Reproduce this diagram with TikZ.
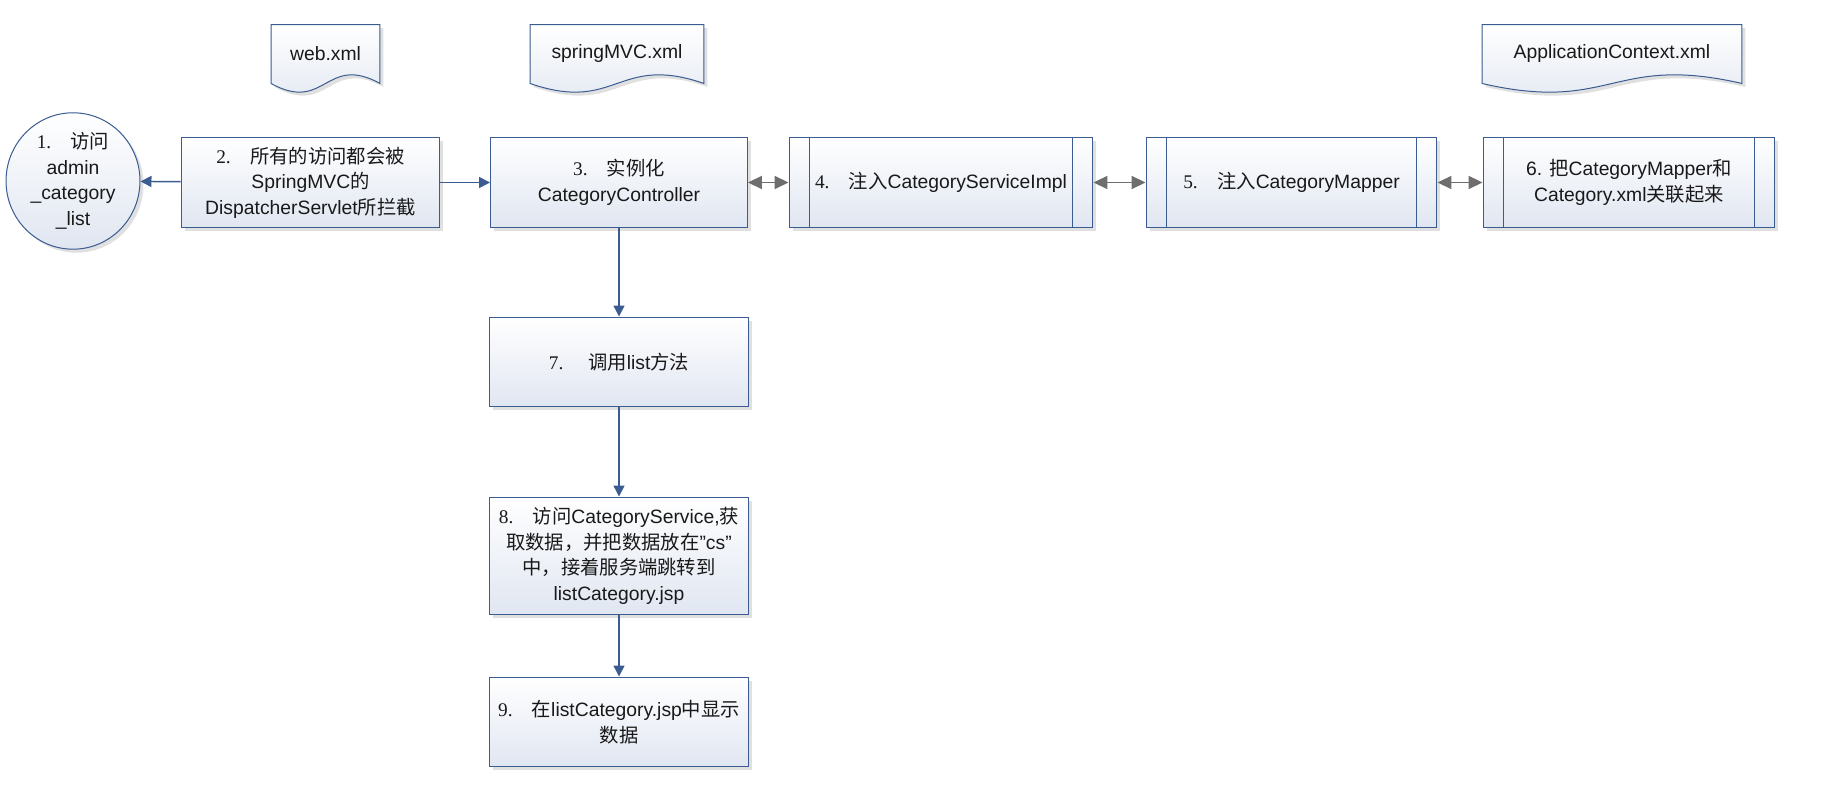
\documentclass[tikz,border=0pt]{standalone}
\usepackage{fontspec}
\setmainfont{Liberation Sans}
\newfontfamily\cjk{Noto Sans CJK SC}
\newfontfamily\numf{Liberation Serif}
\newcommand{\zh}[1]{{\cjk #1}}
\newcommand{\nr}[1]{{\numf #1}}
\usepackage{tikz}
\usetikzlibrary{arrows.meta,shapes.geometric,shadows,backgrounds}
\definecolor{boxline}{RGB}{58,92,145}
\definecolor{boxfill}{RGB}{224,230,241}
\definecolor{linkgray}{RGB}{110,110,110}

\begin{document}
\begin{tikzpicture}[
		x=0.02cm, y=-0.02cm,
		every node/.style={font=\fontsize{11}{14.5}\selectfont, align=center, text=black!90},
		shaded/.style={draw=boxline, line width=0.57pt, top color=white, bottom color=boxfill,
			drop shadow={shadow xshift=0.07cm, shadow yshift=-0.07cm, fill=black!12, opacity=1}},
		stepbox/.style={rectangle, shaded, minimum height=1.82cm, inner sep=2pt},
		startnode/.style={ellipse, shaded, minimum width=2.68cm, minimum height=2.72cm, inner sep=0pt},
		docbox/.style={rectangle, minimum height=1.18cm, inner sep=0pt, outer sep=0pt},
		flow/.style={draw=boxline, line width=0.85pt, -{Triangle[length=0.22cm, width=0.22cm]}},
		link/.style={draw=linkgray, line width=1.1pt,
			{Triangle[length=0.28cm, width=0.26cm]}-{Triangle[length=0.28cm, width=0.26cm]}},
		inner/.style={draw=boxline, line width=0.57pt}
	]
  \useasboundingbox (0, 0) rectangle (1833, 790);

  \node (web) [docbox, minimum width=2.18cm] at (325.5, 54) {web.xml};
  \node (mvc) [docbox, minimum width=3.48cm] at (617, 54) {springMVC.xml};
  \node (ctx) [docbox, minimum width=5.2cm] at (1612, 54) {ApplicationContext.xml};
  \begin{scope}[on background layer]
    \draw [shaded] (web.north west) -- (web.north east) -- (web.south east)
      .. controls ([yshift=0.6cm]web.south) and ([yshift=-0.6cm]web.south) .. (web.south west) -- cycle;
    \draw [shaded] (mvc.north west) -- (mvc.north east) -- (mvc.south east)
      .. controls ([yshift=0.6cm]mvc.south) and ([yshift=-0.6cm]mvc.south) .. (mvc.south west) -- cycle;
    \draw [shaded] (ctx.north west) -- (ctx.north east) -- (ctx.south east)
      .. controls ([yshift=0.6cm]ctx.south) and ([yshift=-0.6cm]ctx.south) .. (ctx.south west) -- cycle;
  \end{scope}

  \node (visit) [startnode] at (73, 181) {\nr{1.}\quad\zh{访问}\\admin\\\_category\\\_list};
  \node (intercept) [stepbox, minimum width=5.18cm] at (310.5, 182.5)
    {\nr{2.}\quad\zh{所有的访问都会被}\\SpringMVC\zh{的}\\DispatcherServlet\zh{所拦截}};
  \node (ctrl) [stepbox, minimum width=5.14cm] at (619, 182.5) {\nr{3.}\quad\zh{实例化}\\CategoryController};
  \node (service) [stepbox, minimum width=6.08cm] at (941, 182.5) {\nr{4.}\quad\zh{注入}CategoryServiceImpl};
  \node (mapper) [stepbox, minimum width=5.82cm] at (1291.5, 182.5) {\nr{5.}\quad\zh{注入}CategoryMapper};
  \node (mapxml) [stepbox, minimum width=5.84cm] at (1629, 182.5)
    {6. \zh{把}CategoryMapper\zh{和}\\Category.xml\zh{关联起来}};
  \node (list) [stepbox, minimum width=5.2cm, minimum height=1.8cm] at (619, 362) {\nr{7.}\quad\ \zh{调用}list\zh{方法}};
  \node (fetch) [stepbox, minimum width=5.2cm, minimum height=2.36cm] at (619, 556)
    {\nr{8.}\quad\zh{访问}CategoryService,\zh{获}\\\zh{取数据，并把数据放在}"cs"\\\zh{中，接着服务端跳转到}\\listCategory.jsp};
  \node (show) [stepbox, minimum width=5.2cm, minimum height=1.8cm] at (619, 722)
    {\nr{9.}\quad\zh{在}listCategory.jsp\zh{中显示}\\\zh{数据}};

  \draw [inner] ([xshift=0.42cm]service.north west) -- ([xshift=0.42cm]service.south west);
  \draw [inner] ([xshift=-0.42cm]service.north east) -- ([xshift=-0.42cm]service.south east);
  \draw [inner] ([xshift=0.42cm]mapper.north west) -- ([xshift=0.42cm]mapper.south west);
  \draw [inner] ([xshift=-0.42cm]mapper.north east) -- ([xshift=-0.42cm]mapper.south east);
  \draw [inner] ([xshift=0.42cm]mapxml.north west) -- ([xshift=0.42cm]mapxml.south west);
  \draw [inner] ([xshift=-0.42cm]mapxml.north east) -- ([xshift=-0.42cm]mapxml.south east);

  \draw [flow] (intercept) -- (visit);
  \draw [flow] (intercept) -- (ctrl);
  \draw [link] (ctrl) -- (service);
  \draw [link] (service) -- (mapper);
  \draw [link] (mapper) -- (mapxml);
  \draw [flow] (ctrl) -- (list);
  \draw [flow] (list) -- (fetch);
  \draw [flow] (fetch) -- (show);
\end{tikzpicture}
\end{document}
